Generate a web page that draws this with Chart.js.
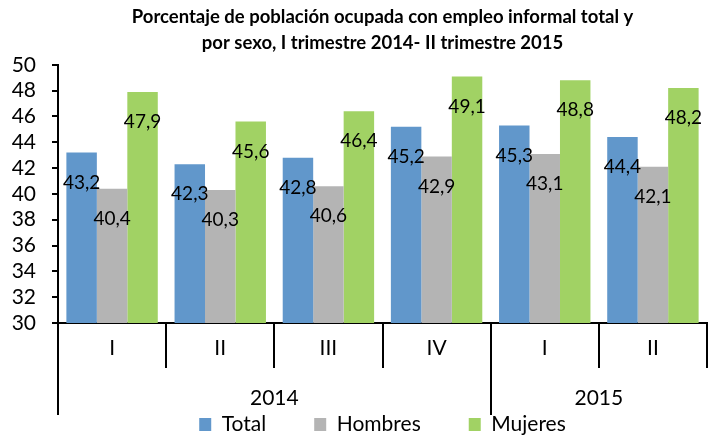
<!DOCTYPE html>
<html>
<head>
<meta charset="utf-8">
<script src="https://cdn.jsdelivr.net/npm/chart.js@4/dist/chart.umd.min.js"></script>
<style>
  body { margin: 0; background: #fff; }
  canvas { display: block; }
</style>
</head>
<body>
<canvas id="chart" width="711" height="440"></canvas>
<script>
const quarters = ['I', 'II', 'III', 'IV', 'I', 'II'];
const years = ['2014', '2015'];
const yearSpans = [4, 2];
const total = [43.2, 42.3, 42.8, 45.2, 45.3, 44.4];
const hombres = [40.4, 40.3, 40.6, 42.9, 43.1, 42.1];
const mujeres = [47.9, 45.6, 46.4, 49.1, 48.8, 48.2];
const yTicks = { min: 30, max: 50, step: 2 };

const FONT = "Lato, 'Liberation Sans', sans-serif";

// value labels just inside the top of each bar
const barLabels = {
  id: 'barLabels',
  afterDatasetsDraw(chart) {
    const ctx = chart.ctx;
    ctx.save();
    ctx.font = '19px ' + FONT;
    ctx.fillStyle = '#000';
    ctx.textAlign = 'center';
    ctx.textBaseline = 'middle';
    chart.data.datasets.forEach((ds, i) => {
      chart.getDatasetMeta(i).data.forEach((bar, j) => {
        ctx.fillText(ds.data[j].toFixed(1).replace('.', ','), bar.x, bar.y + 30);
      });
    });
    ctx.restore();
  }
};

// second row of the x axis: years
const yearRow = {
  id: 'yearRow',
  afterDraw(chart) {
    const ctx = chart.ctx;
    const x = chart.scales.x;
    const top = x.top;
    ctx.save();
    ctx.strokeStyle = '#000';
    ctx.lineWidth = 2;
    ctx.font = '21px ' + FONT;
    ctx.fillStyle = '#000';
    ctx.textAlign = 'center';
    ctx.textBaseline = 'middle';
    let start = 0;
    years.forEach((yr, i) => {
      const x0 = x.getPixelForValue(start - 0.5);
      const x1 = x.getPixelForValue(start + yearSpans[i] - 0.5);
      ctx.beginPath();
      ctx.moveTo(Math.round(x0), top);
      ctx.lineTo(Math.round(x0), top + 92);
      ctx.stroke();
      ctx.fillText(yr, (x0 + x1) / 2, top + 75);
      start += yearSpans[i];
    });
    ctx.restore();
  }
};

new Chart(document.getElementById('chart'), {
  type: 'bar',
  data: {
    labels: quarters,
    datasets: [
      { label: 'Total', data: total, backgroundColor: '#6197CB' },
      { label: 'Hombres', data: hombres, backgroundColor: '#B4B4B4' },
      { label: 'Mujeres', data: mujeres, backgroundColor: '#A1D264' }
    ]
  },
  options: {
    responsive: false,
    animation: false,
    layout: { padding: { left: 0, right: 4, top: 0, bottom: -5 } },
    datasets: { bar: { barPercentage: 1, categoryPercentage: 0.845 } },
    scales: {
      x: {
        offset: true,
        afterFit(s) { s.height = 43; },
        border: { display: true, color: '#000', width: 2 },
        grid: {
          offset: true,
          drawOnChartArea: false,
          tickLength: 45,
          lineWidth: 2,
          color: (c) => c.index === quarters.length ? 'rgba(0,0,0,0)' : '#000'
        },
        ticks: { color: '#000', font: { family: FONT, size: 21 }, padding: -32, maxRotation: 0 }
      },
      y: {
        min: yTicks.min,
        max: yTicks.max,
        afterFit(s) { s.width = 58; },
        border: { display: true, color: '#000', width: 2 },
        grid: { drawOnChartArea: false, tickLength: 6, color: '#000', lineWidth: 2 },
        ticks: { stepSize: yTicks.step, autoSkip: false, color: '#000', font: { family: FONT, size: 21 }, padding: 16 }
      }
    },
    plugins: {
      title: {
        display: true,
        fullSize: false,
        text: ['Porcentaje de población ocupada con empleo informal total y', 'por sexo, I trimestre 2014- II trimestre 2015'],
        color: '#000',
        font: { family: FONT, size: 18.5, weight: 'bold', lineHeight: 1.4 },
        padding: { top: 4, bottom: 9 }
      },
      legend: {
        position: 'bottom',
        fullSize: false,
        labels: {
          color: '#000',
          boxWidth: 12,
          boxHeight: 13,
          padding: 48,
          font: { family: FONT, size: 21 }
        }
      },
      tooltip: { enabled: false }
    }
  },
  plugins: [barLabels, yearRow]
});
</script>
</body>
</html>
